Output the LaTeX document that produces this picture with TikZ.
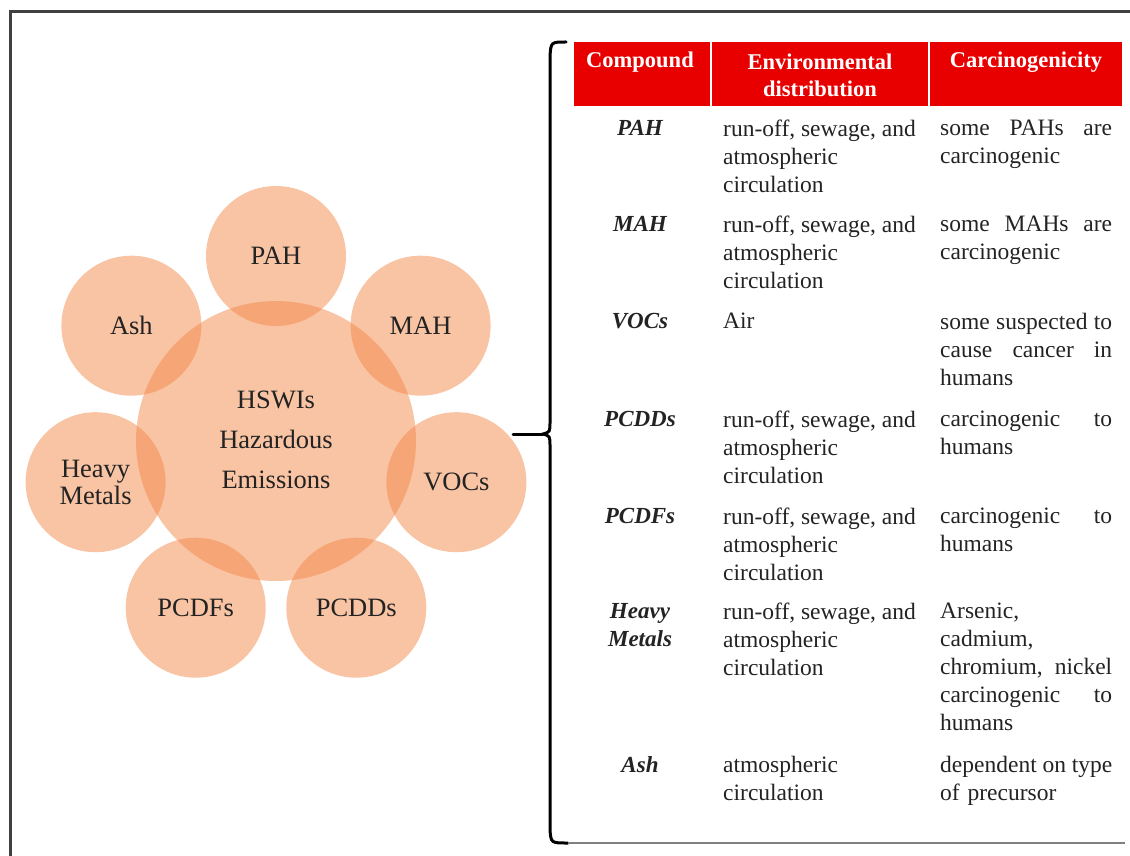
\documentclass[tikz,border=0pt]{standalone}
\usepackage{fontspec}
\setmainfont{Liberation Serif}
\definecolor{circ}{RGB}{243,137,73}
\definecolor{hdr}{RGB}{232,0,0}
\definecolor{ink}{RGB}{35,35,35}
\begin{document}
\begin{tikzpicture}[x=1pt,y=-1pt,
  bub/.style={circle, fill=circ, fill opacity=0.5, text opacity=1, minimum size=140pt, inner sep=0pt, draw=none},
  lab/.style={text=ink, font=\fontsize{26.5}{40}\selectfont, align=center, inner sep=0pt},
  hd/.style={text=white, font=\bfseries\fontsize{22.5}{27}\selectfont, align=center, inner sep=0pt},
  cmp/.style={text=ink, font=\bfseries\itshape\fontsize{23}{28}\selectfont, align=center, inner sep=0pt, anchor=north},
  env/.style={text=ink, font=\fontsize{23.5}{28}\selectfont, align=left, inner sep=0pt, anchor=north west},
  car/.style={text=ink, font=\fontsize{23.5}{28}\selectfont, align=left, text width=172pt, inner sep=0pt, anchor=north west},
  frame/.style={draw=black!75, line width=3pt},
  brace/.style={draw=black, line width=3pt, line cap=round},
]
\useasboundingbox (0,0) rectangle (1130,856);
% outer frame
\draw[frame] (10,880) -- (10,12) -- (1150,12);

% circles
\node[bub, minimum size=280pt] (hub) at (276,441) {};
\node[bub] (pah) at (276,256) {};
\node[bub] (mah) at (420.6,325.7) {};
\node[bub] (voc) at (456.4,482.2) {};
\node[bub] (pcdd) at (356.3,607.7) {};
\node[bub] (pcdf) at (195.7,607.7) {};
\node[bub] (hm) at (95.6,482.2) {};
\node[bub] (ash) at (131.4,325.7) {};

\node[lab] (thub) at (276,440) {HSWIs\\Hazardous\\Emissions};
\node[lab] (tpah) at (pah) {PAH};
\node[lab] (tmah) at (mah) {MAH};
\node[lab] (tvoc) at (voc) {VOCs};
\node[lab] (tpcdd) at (pcdd) {PCDDs};
\node[lab] (tpcdf) at (pcdf) {PCDFs};
\node[lab, font=\fontsize{26.5}{27}\selectfont] (thm) at (hm) {Heavy\\Metals};
\node[lab] (tash) at (ash) {Ash};

% brace
\coordinate (btop) at (566,42);
\coordinate (bbot) at (568,843);
\coordinate (btip) at (543,434);
\coordinate (bfree) at (513,434);
\draw[brace] (btop) .. controls (551,42) .. (550,56) -- (550,422)
  .. controls (550,432) .. (btip) .. controls (550,436) .. (550,446)
  -- (550,830) .. controls (551,843) .. (bbot);
\draw[brace] (bfree) -- (btip);
\draw[draw=black!50, line width=2pt] (bbot) -- (1125,843);

% header
\fill[hdr] (574,42) rectangle (1122,106);
\draw[white, line width=2pt] (711,42) -- (711,106);
\draw[white, line width=2pt] (929,42) -- (929,106);
\node[hd] (h1) at (640,62) {Compound};
\node[hd] (h2) at (820,75.5) {Environmental\\distribution};
\node[hd] (h3) at (1026,62) {Carcinogenicity};

% rows
\node[cmp] (c1) at (640,120) {PAH};
\node[env] (e1) at (723,120) {run-off, sewage, and\\atmospheric\\circulation};
\node[car] (k1) at (940,120) {some\hfill PAHs\hfill are\\carcinogenic};

\node[cmp] (c2) at (640,216) {MAH};
\node[env] (e2) at (723,216) {run-off, sewage, and\\atmospheric\\circulation};
\node[car] (k2) at (940,216) {some\hfill MAHs\hfill are\\carcinogenic};

\node[cmp] (c3) at (640,313) {VOCs};
\node[env] (e3) at (723,313) {Air};
\node[car] (k3) at (940,313) {some\hfill suspected\hfill to\\cause\hfill cancer\hfill in\\humans};

\node[cmp] (c4) at (640,411) {PCDDs};
\node[env] (e4) at (723,411) {run-off, sewage, and\\atmospheric\\circulation};
\node[car] (k4) at (940,411) {carcinogenic\hfill to\\humans};

\node[cmp] (c5) at (640,508) {PCDFs};
\node[env] (e5) at (723,508) {run-off, sewage, and\\atmospheric\\circulation};
\node[car] (k5) at (940,508) {carcinogenic\hfill to\\humans};

\node[cmp] (c6) at (640,603) {Heavy\\Metals};
\node[env] (e6) at (723,603) {run-off, sewage, and\\atmospheric\\circulation};
\node[car] (k6) at (940,603) {Arsenic,\\cadmium,\\chromium,\hfill nickel\\carcinogenic\hfill to\\humans};

\node[cmp] (c7) at (640,756) {Ash};
\node[env] (e7) at (723,756) {atmospheric\\circulation};
\node[car] (k7) at (940,756) {dependent\hfill on\hfill type\\of precursor};
\end{tikzpicture}
\end{document}
